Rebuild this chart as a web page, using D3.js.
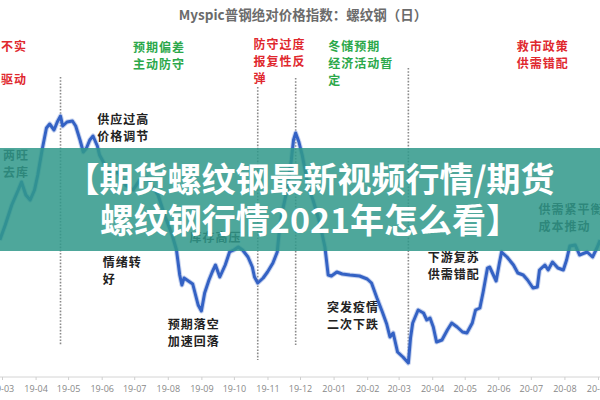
<!DOCTYPE html>
<html>
<head>
<meta charset="utf-8">
<script src="https://cdn.jsdelivr.net/npm/d3@7/dist/d3.min.js"></script>
<style>
  html, body { margin: 0; padding: 0; background: #fff; }
  #chart { width: 600px; height: 400px; }
  text { font-family: "Noto Sans CJK SC", "Noto Sans", sans-serif; }
</style>
</head>
<body>
<div id="chart"></div>
<script>
// Rebar (螺纹钢) daily price index
const dates = [
  "2019-02-27","2019-03-04","2019-03-10","2019-03-16","2019-03-19","2019-03-23","2019-03-27","2019-03-31",
  "2019-04-03","2019-04-07","2019-04-11","2019-04-14","2019-04-18","2019-04-21","2019-04-24","2019-04-26",
  "2019-04-30","2019-05-05","2019-05-08","2019-05-12","2019-05-15","2019-05-18","2019-05-21","2019-05-24",
  "2019-05-28","2019-05-30","2019-06-04","2019-06-09","2019-06-16","2019-06-23","2019-06-30","2019-07-06",
  "2019-07-13","2019-07-17","2019-07-23","2019-07-29","2019-08-05","2019-08-09","2019-08-12","2019-08-14",
  "2019-08-16","2019-08-20","2019-08-24","2019-08-29","2019-09-01","2019-09-04","2019-09-08","2019-09-11",
  "2019-09-14","2019-09-18","2019-09-23","2019-09-27","2019-10-01","2019-10-05","2019-10-09","2019-10-14",
  "2019-10-18","2019-10-20","2019-10-23","2019-10-28","2019-11-01","2019-11-06","2019-11-10","2019-11-12",
  "2019-11-15","2019-11-19","2019-11-23","2019-11-25","2019-11-27","2019-11-30","2019-12-03","2019-12-06",
  "2019-12-09","2019-12-13","2019-12-19","2019-12-24","2019-12-27","2019-12-30","2020-01-04","2020-01-09",
  "2020-01-16","2020-01-25","2020-02-01","2020-02-05","2020-02-10","2020-02-15","2020-02-19","2020-02-22",
  "2020-02-25","2020-02-29","2020-03-05","2020-03-10","2020-03-12","2020-03-14","2020-03-19","2020-03-24",
  "2020-03-27","2020-03-30","2020-04-02","2020-04-05","2020-04-10","2020-04-15","2020-04-19","2020-04-24",
  "2020-04-29","2020-05-03","2020-05-08","2020-05-11","2020-05-15","2020-05-18","2020-05-22","2020-05-24",
  "2020-05-27","2020-05-30","2020-06-02","2020-06-04","2020-06-09","2020-06-15","2020-06-19","2020-06-24",
  "2020-06-28","2020-07-03","2020-07-07","2020-07-09","2020-07-14","2020-07-17","2020-07-21","2020-07-26",
  "2020-07-31","2020-08-03","2020-08-06","2020-08-11","2020-08-15","2020-08-22","2020-08-27","2020-08-31",
  "2020-09-03"
];
const values = [
  3800,3875,3975,4050,4090,4025,4000,4050,
  4125,4250,4360,4380,4350,4390,4420,4370,
  4390,4395,4370,4300,4240,4260,4300,4320,
  4270,4225,4175,4125,4140,4075,4050,4100,
  4110,4075,4025,3925,3825,3750,3625,3575,
  3610,3595,3580,3475,3445,3535,3600,3640,
  3675,3615,3675,3740,3750,3765,3750,3715,
  3665,3615,3585,3610,3640,3685,3740,3850,
  3950,4050,4200,4300,4335,4290,4225,4140,
  4060,4000,3890,3765,3625,3620,3640,3630,
  3625,3620,3605,3585,3510,3440,3380,3315,
  3335,3240,3215,3185,3310,3385,3450,3435,
  3400,3410,3365,3290,3300,3350,3385,3365,
  3340,3335,3385,3450,3460,3540,3660,3665,
  3630,3595,3685,3740,3715,3675,3635,3625,
  3600,3560,3565,3650,3675,3650,3690,3660,
  3650,3700,3770,3775,3725,3740,3715,3760,
  3800
];

// dotted event markers: date, top value, bottom value
const markerDates = ["2019-04-24", "2019-10-23", "2019-11-27", "2020-03-10"];
const markerTops = [4615, 4565, 4610, 4660];
const markerBottoms = [3275, 3200, 3275, 3175];

// annotations: text lines, anchor date (left edge), anchor value (first line), colour kind
const noteLines = [
  ["不实"], ["驱动"], ["预期偏差", "主动防守"], ["防守过度", "报复性反", "弹"],
  ["冬储预期", "经济活动暂", "定"], ["救市政策", "供需错配"], ["供应过高", "价格调节"],
  ["两旺", "去库"], ["情绪转", "好"], ["库存高压"], ["预期落空", "加速回落"],
  ["突发疫情", "二次下跌"], ["下游复苏", "供需错配"], ["供需紧平衡", "成本推动"]
];
const noteDates = [
  "2019-02-28", "2019-02-28", "2019-06-30", "2019-10-19",
  "2019-12-27", "2020-06-18", "2019-05-28",
  "2019-03-02", "2019-06-02", "2019-08-21", "2019-08-01",
  "2019-12-26", "2020-03-28", "2020-07-08"
];
const noteValues = [4765, 4600, 4760, 4775, 4765, 4765, 4400, 4220, 3685, 3810, 3375, 3460, 3710, 3950];
const noteKinds = ["red", "red", "green", "red", "green", "red", "dark", "dark", "dark", "dark", "dark", "dark", "dark", "dark"];

const title = "Myspic普钢绝对价格指数：螺纹钢（日）";
const bannerLines = ["【期货螺纹钢最新视频行情/期货", "螺纹钢行情2021年怎么看】"];

const width = 600, height = 400;
const parse = d3.timeParse("%Y-%m-%d");
const series = dates.map((d, i) => ({ date: parse(d), value: values[i] }));

const x = d3.scaleTime()
  .domain([parse("2019-03-01"), parse("2020-09-01")])
  .range([2, 598]);
const y = d3.scaleLinear()
  .domain([3100, 4500])
  .range([380, 100]);

const kindColor = { red: "#e0282e", green: "#2ba84a", dark: "#222" };

const svg = d3.select("#chart").append("svg")
  .attr("width", width)
  .attr("height", height);

// title
svg.append("text")
  .attr("x", 303).attr("y", 20)
  .attr("text-anchor", "middle")
  .style("font-size", "13.5px")
  .style("font-weight", "bold")
  .style("fill", "#6b6b6b")
  .text(title);

// x axis
const axis = d3.axisBottom(x)
  .ticks(d3.timeMonth.every(1))
  .tickFormat(d3.timeFormat("%y-%m"))
  .tickSize(3)
  .tickPadding(6);
const gx = svg.append("g")
  .attr("transform", "translate(0,377)")
  .call(axis);
gx.select(".domain").attr("d", "M0,0H600").attr("stroke", "#d4d4d4");
gx.selectAll(".tick line").attr("stroke", "#cfcfcf");
gx.selectAll(".tick text")
  .style("font-family", "'Open Sans', 'Liberation Sans', sans-serif")
  .style("font-size", "9px")
  .style("fill", "#888");

// dotted markers
svg.append("g").selectAll("line")
  .data(markerDates)
  .join("line")
  .attr("x1", d => x(parse(d)))
  .attr("x2", d => x(parse(d)))
  .attr("y1", (d, i) => y(markerTops[i]))
  .attr("y2", (d, i) => y(markerBottoms[i]))
  .attr("stroke", "#8a8a8a")
  .attr("stroke-width", 1.6)
  .attr("stroke-dasharray", "1.6,1.6");

// price line
const line = d3.line()
  .x(d => x(d.date))
  .y(d => y(d.value));

svg.append("path")
  .datum(series)
  .attr("d", line)
  .attr("fill", "none")
  .attr("stroke", "#8fa8e0")
  .attr("stroke-width", 5)
  .attr("stroke-opacity", 0.5)
  .attr("stroke-linejoin", "round");
svg.append("path")
  .datum(series)
  .attr("d", line)
  .attr("fill", "none")
  .attr("stroke", "#3462c4")
  .attr("stroke-width", 3)
  .attr("stroke-linejoin", "round");

// annotations
const notes = svg.append("g");
noteLines.forEach((lines, i) => {
  const t = notes.append("text")
    .attr("x", x(parse(noteDates[i])))
    .attr("y", y(noteValues[i]))
    .style("font-size", "12px")
    .style("font-weight", "bold")
    .style("letter-spacing", "1px")
    .style("fill", kindColor[noteKinds[i]]);
  lines.forEach((s, j) => {
    t.append("tspan")
      .attr("x", x(parse(noteDates[i])))
      .attr("dy", j === 0 ? "0.35em" : "17px")
      .text(s);
  });
});

// banner over the chart
svg.append("rect")
  .attr("x", 0).attr("y", 148)
  .attr("width", width).attr("height", 103)
  .attr("fill", "#31998b")
  .attr("fill-opacity", 0.86);

svg.append("g").selectAll("text")
  .data(bannerLines)
  .join("text")
  .attr("x", 310)
  .attr("y", (d, i) => 180 + i * 41)
  .attr("dy", "0.35em")
  .attr("text-anchor", "middle")
  .style("font-size", "34px")
  .style("font-weight", "bold")
  .style("fill", "#fff")
  .text(d => d);
</script>
</body>
</html>
